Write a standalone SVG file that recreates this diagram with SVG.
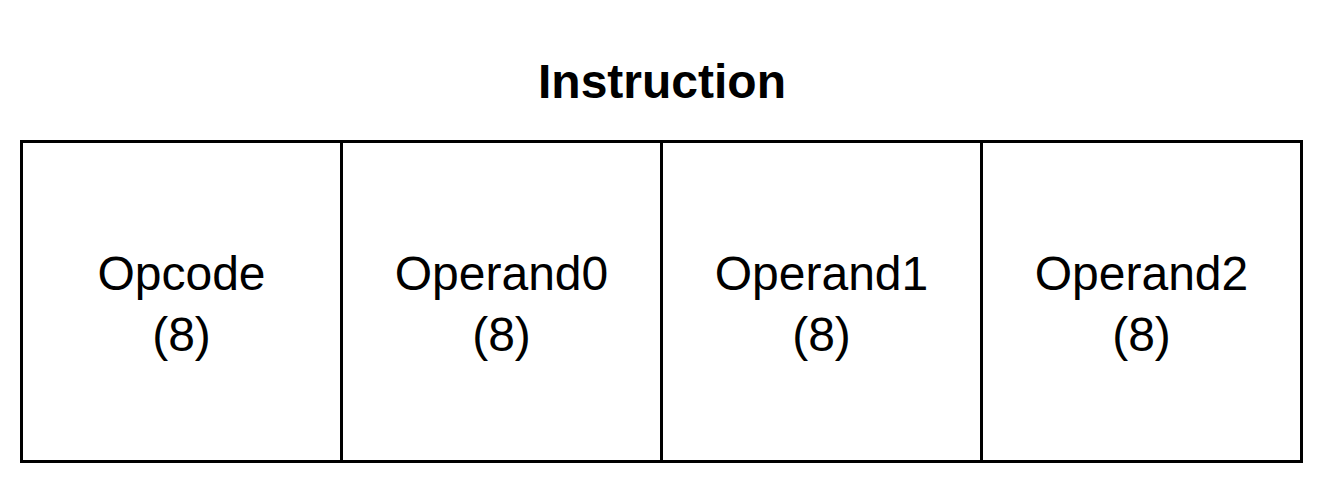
<svg xmlns="http://www.w3.org/2000/svg" width="1324" height="484" viewBox="0 0 1324 484">
<style>
.cell{fill:#fff;stroke:#000;stroke-width:3}
.t{font-family:"Liberation Sans",Arial,sans-serif;font-size:48px;fill:#000;text-anchor:middle}
.title{font-family:"Liberation Sans",Arial,sans-serif;font-size:48px;font-weight:bold;fill:#000;text-anchor:middle}
</style>
<rect width="1324" height="484" fill="#fff"/>
<g id="title"><text class="title" x="662" y="98">Instruction</text></g>
<g id="opcode"><rect class="cell" x="21.5" y="141.5" width="320" height="320"/><text class="t" x="181.5" y="290">Opcode</text><text class="t" x="181.5" y="351">(8)</text></g>
<g id="operand0"><rect class="cell" x="341.5" y="141.5" width="320" height="320"/><text class="t" x="501.5" y="290">Operand0</text><text class="t" x="501.5" y="351">(8)</text></g>
<g id="operand1"><rect class="cell" x="661.5" y="141.5" width="320" height="320"/><text class="t" x="821.5" y="290">Operand1</text><text class="t" x="821.5" y="351">(8)</text></g>
<g id="operand2"><rect class="cell" x="981.5" y="141.5" width="320" height="320"/><text class="t" x="1141.5" y="290">Operand2</text><text class="t" x="1141.5" y="351">(8)</text></g>
<g id="connectors"/>
</svg>
